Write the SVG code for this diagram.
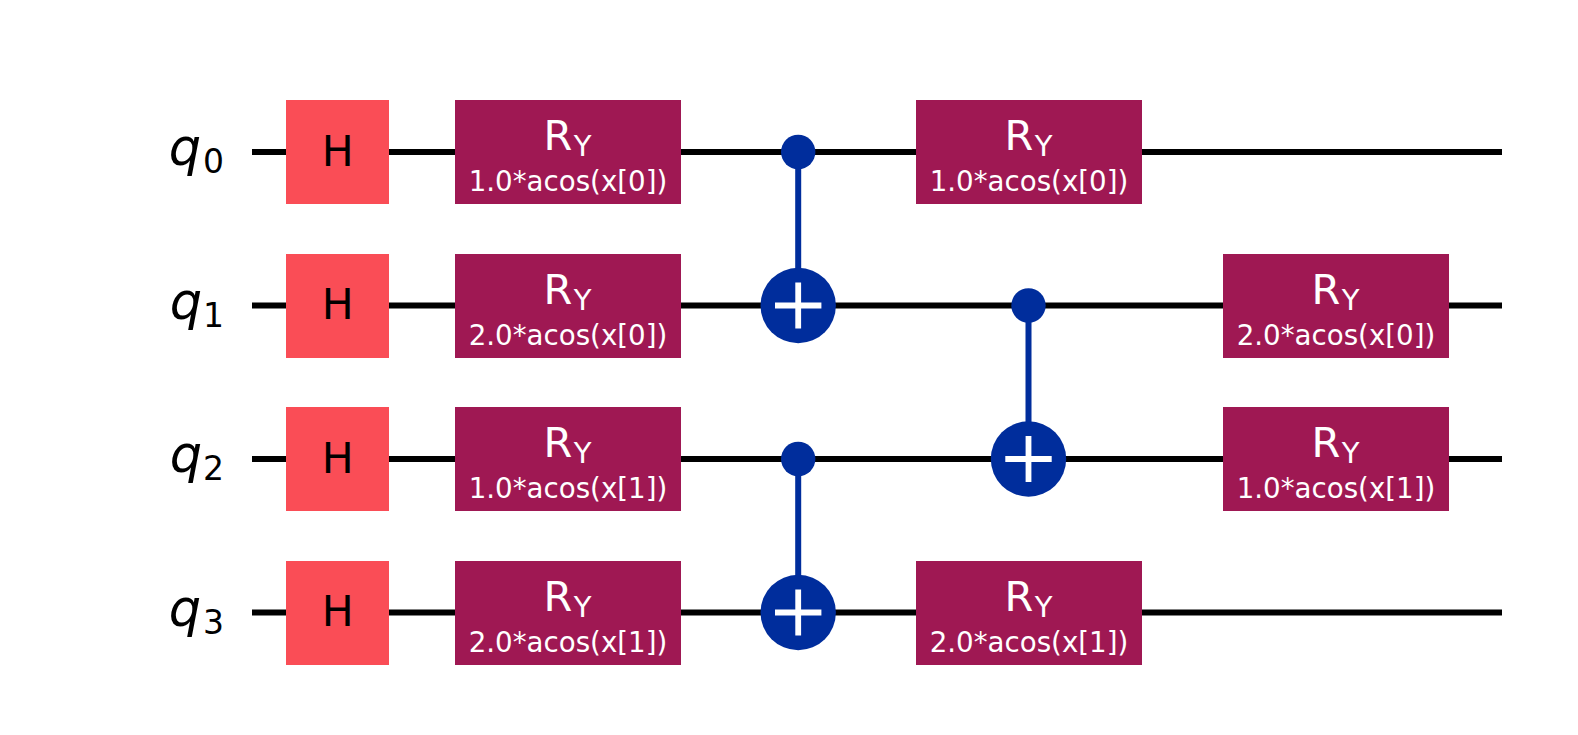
<svg xmlns="http://www.w3.org/2000/svg" width="1578" height="735" viewBox="0 0 1578 735">
<style>
text{font-family:"DejaVu Sans",sans-serif;text-anchor:middle}
.w{stroke:#000;stroke-width:6;fill:none}
.c{stroke:#002d9c;stroke-width:6;fill:none}
.h{fill:#fa4d56}.r{fill:#9f1853}
.ht{font-size:42.500px;fill:#000}
.rt{font-size:41.500px;fill:#fff}
.sub{font-size:29px}
.pt{font-size:27.700px;fill:#fff}
.lb{font-size:51px;fill:#000;font-style:italic}
.ls{font-size:33px;fill:#000}
.d{fill:#002d9c}
.p{stroke:#fff;stroke-width:5.8;fill:none}
</style>
<rect width="1578" height="735" fill="#fff"/>
<g id="connectors">
<path class="w" d="M252 152H1502M252 305.500H1502M252 459H1502M252 612.500H1502"/>
<path class="c" d="M798.200 152V305.500M798.200 459V612.500M1028.500 305.500V459"/>
</g>
<g id="q0"><text class="lb" x="185" y="165">q</text><text class="ls" x="213.500" y="173">0</text></g>
<g id="q1"><text class="lb" x="186" y="318.500">q</text><text class="ls" x="213.500" y="326.500">1</text></g>
<g id="q2"><text class="lb" x="186" y="472">q</text><text class="ls" x="213.500" y="480">2</text></g>
<g id="q3"><text class="lb" x="185" y="625.500">q</text><text class="ls" x="213.500" y="633.500">3</text></g>
<g id="h0"><rect class="h" x="286" y="100" width="103" height="104"/><text class="ht" x="337.700" y="165.500">H</text></g>
<g id="h1"><rect class="h" x="286" y="254" width="103" height="104"/><text class="ht" x="337.700" y="319">H</text></g>
<g id="h2"><rect class="h" x="286" y="407" width="103" height="104"/><text class="ht" x="337.700" y="472.500">H</text></g>
<g id="h3"><rect class="h" x="286" y="561" width="103" height="104"/><text class="ht" x="337.700" y="626">H</text></g>
<g id="ry0"><rect class="r" x="455" y="100" width="226" height="104"/><text class="rt" x="567.500" y="150">R<tspan class="sub" dx="1.500" dy="6">Y</tspan></text><text class="pt" x="568" y="191">1.0*acos(x[0])</text></g>
<g id="ry1"><rect class="r" x="455" y="254" width="226" height="104"/><text class="rt" x="567.500" y="303.500">R<tspan class="sub" dx="1.500" dy="6">Y</tspan></text><text class="pt" x="568" y="344.500">2.0*acos(x[0])</text></g>
<g id="ry2"><rect class="r" x="455" y="407" width="226" height="104"/><text class="rt" x="567.500" y="457">R<tspan class="sub" dx="1.500" dy="6">Y</tspan></text><text class="pt" x="568" y="498">1.0*acos(x[1])</text></g>
<g id="ry3"><rect class="r" x="455" y="561" width="226" height="104"/><text class="rt" x="567.500" y="610.500">R<tspan class="sub" dx="1.500" dy="6">Y</tspan></text><text class="pt" x="568" y="651.500">2.0*acos(x[1])</text></g>
<g id="cx0"><circle class="d" cx="798.200" cy="152" r="17.200"/><circle class="d" cx="798.200" cy="305.500" r="37.700"/><path class="p" d="M798.200 282.500V328.500M775 305.500H821.400"/></g>
<g id="cx1"><circle class="d" cx="798.200" cy="459" r="17.200"/><circle class="d" cx="798.200" cy="612.500" r="37.700"/><path class="p" d="M798.200 589.500V635.500M775 612.500H821.400"/></g>
<g id="cx2"><circle class="d" cx="1028.500" cy="305.500" r="17.200"/><circle class="d" cx="1028.500" cy="459" r="37.700"/><path class="p" d="M1028.500 436V482M1005.300 459H1051.700"/></g>
<g id="ry4"><rect class="r" x="916" y="100" width="226" height="104"/><text class="rt" x="1028.500" y="150">R<tspan class="sub" dx="1.500" dy="6">Y</tspan></text><text class="pt" x="1029" y="191">1.0*acos(x[0])</text></g>
<g id="ry5"><rect class="r" x="916" y="561" width="226" height="104"/><text class="rt" x="1028.500" y="610.500">R<tspan class="sub" dx="1.500" dy="6">Y</tspan></text><text class="pt" x="1029" y="651.500">2.0*acos(x[1])</text></g>
<g id="ry6"><rect class="r" x="1223" y="254" width="226" height="104"/><text class="rt" x="1335.500" y="303.500">R<tspan class="sub" dx="1.500" dy="6">Y</tspan></text><text class="pt" x="1336" y="344.500">2.0*acos(x[0])</text></g>
<g id="ry7"><rect class="r" x="1223" y="407" width="226" height="104"/><text class="rt" x="1335.500" y="457">R<tspan class="sub" dx="1.500" dy="6">Y</tspan></text><text class="pt" x="1336" y="498">1.0*acos(x[1])</text></g>
</svg>
